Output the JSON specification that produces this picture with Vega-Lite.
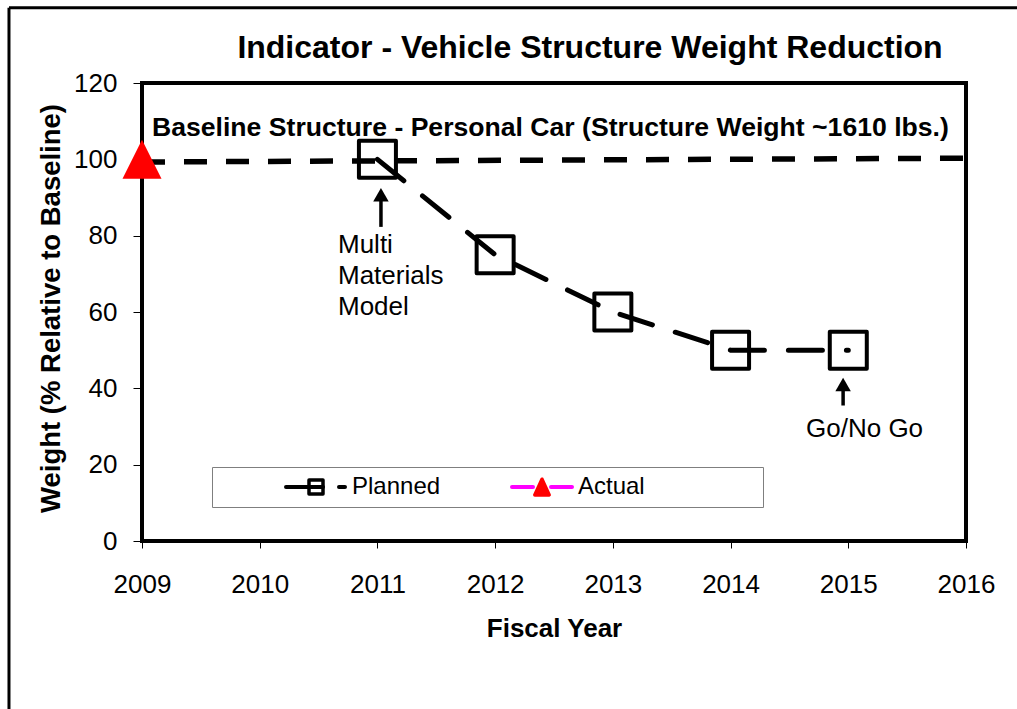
{
  "$schema": "https://vega.github.io/schema/vega-lite/v6.json",
  "width": 824,
  "height": 458,
  "autosize": {"type": "none"},
  "padding": {"left": 142, "top": 83, "right": 51, "bottom": 168},
  "background": "white",
  "config": {
    "font": "Liberation Sans",
    "view": {"stroke": "black", "strokeWidth": 4},
    "axis": {
      "grid": false,
      "domain": false,
      "labelFont": "Liberation Sans",
      "labelFontSize": 26,
      "labelColor": "black",
      "tickColor": "black",
      "tickWidth": 1,
      "titleFont": "Liberation Sans",
      "titleFontWeight": "bold",
      "titleColor": "black",
      "labelFlush": false,
      "labelOverlap": false
    }
  },
  "datasets": {
    "series": [
      {"year": 2009, "weight": 100, "series": "Actual"},
      {"year": 2011, "weight": 100, "series": "Planned"},
      {"year": 2012, "weight": 75, "series": "Planned"},
      {"year": 2013, "weight": 60, "series": "Planned"},
      {"year": 2014, "weight": 50, "series": "Planned"},
      {"year": 2015, "weight": 50, "series": "Planned"}
    ],
    "baseline": [
      {"year": 2009, "weight": 99.3},
      {"year": 2016, "weight": 100.3}
    ],
    "arrows": [
      {"year": 2011.03, "tip": 90.7, "tail": 82.3},
      {"year": 2014.956, "tip": 41.0, "tail": 35.5}
    ],
    "notes": [
      {"year": 2010.665, "weight": 75.5, "label": "Multi\nMaterials\nModel"},
      {"year": 2014.641, "weight": 27.35, "label": "Go/No Go"}
    ]
  },
  "layer": [
    {
      "data": {"values": [{}]},
      "mark": {"type": "rule", "stroke": "black", "strokeWidth": 3, "clip": false},
      "encoding": {
        "x": {"datum": 2007.87, "type": "quantitative", "scale": {"domain": [2009, 2016], "nice": false, "zero": false},
              "axis": {"title": "Fiscal Year", "values": [2009, 2010, 2011, 2012, 2013, 2014, 2015, 2016], "format": "d", "tickSize": 7, "labelPadding": 23, "titleFontSize": 26, "titlePadding": 18}},
        "y": {"datum": -45, "type": "quantitative", "scale": {"domain": [0, 120], "nice": false, "zero": false},
              "axis": {"title": "Weight (% Relative to Baseline)", "values": [0, 20, 40, 60, 80, 100, 120], "tickSize": 9, "labelPadding": 16, "titleFontSize": 27.5, "titlePadding": 8, "titleY": 225}},
        "y2": {"datum": 139.7}
      }
    },
    {
      "data": {"values": [{}]},
      "mark": {"type": "rule", "stroke": "black", "strokeWidth": 3, "clip": false},
      "encoding": {
        "x": {"datum": 2007.87, "type": "quantitative", "scale": {"domain": [2009, 2016], "nice": false, "zero": false},
              "axis": {"title": "Fiscal Year", "values": [2009, 2010, 2011, 2012, 2013, 2014, 2015, 2016], "format": "d", "tickSize": 7, "labelPadding": 23, "titleFontSize": 26, "titlePadding": 18}},
        "x2": {"datum": 2016.6},
        "y": {"datum": 139.7, "type": "quantitative", "scale": {"domain": [0, 120], "nice": false, "zero": false},
              "axis": {"title": "Weight (% Relative to Baseline)", "values": [0, 20, 40, 60, 80, 100, 120], "tickSize": 9, "labelPadding": 16, "titleFontSize": 27.5, "titlePadding": 8, "titleY": 225}}
      }
    },
    {
      "data": {"name": "baseline"},
      "mark": {"type": "line", "stroke": "black", "strokeWidth": 5.5, "strokeDash": [23, 19]},
      "encoding": {
        "x": {"field": "year", "type": "quantitative", "scale": {"domain": [2009, 2016], "nice": false, "zero": false},
              "axis": {"title": "Fiscal Year", "values": [2009, 2010, 2011, 2012, 2013, 2014, 2015, 2016], "format": "d", "tickSize": 7, "labelPadding": 23, "titleFontSize": 26, "titlePadding": 18}},
        "y": {"field": "weight", "type": "quantitative", "scale": {"domain": [0, 120], "nice": false, "zero": false},
              "axis": {"title": "Weight (% Relative to Baseline)", "values": [0, 20, 40, 60, 80, 100, 120], "tickSize": 9, "labelPadding": 16, "titleFontSize": 27.5, "titlePadding": 8, "titleY": 225}}
      }
    },
    {
      "data": {"name": "series"},
      "transform": [{"filter": "datum.series === 'Planned'"}],
      "mark": {"type": "line", "strokeWidth": 5, "strokeCap": "round", "strokeDash": [34, 24]},
      "encoding": {
        "x": {"field": "year", "type": "quantitative", "scale": {"domain": [2009, 2016], "nice": false, "zero": false},
              "axis": {"title": "Fiscal Year", "values": [2009, 2010, 2011, 2012, 2013, 2014, 2015, 2016], "format": "d", "tickSize": 7, "labelPadding": 23, "titleFontSize": 26, "titlePadding": 18}},
        "y": {"field": "weight", "type": "quantitative", "scale": {"domain": [0, 120], "nice": false, "zero": false},
              "axis": {"title": "Weight (% Relative to Baseline)", "values": [0, 20, 40, 60, 80, 100, 120], "tickSize": 9, "labelPadding": 16, "titleFontSize": 27.5, "titlePadding": 8, "titleY": 225}},
        "color": {
          "field": "series", "type": "nominal",
          "scale": {"domain": ["Planned", "Actual"], "range": ["black", "#ff00ff"]},
          "legend": {
            "orient": "none", "legendX": 70, "legendY": 384, "direction": "horizontal", "title": null,
            "symbolSize": 400, "symbolStrokeWidth": 4, "symbolOffset": 84, "labelOffset": 24, "columnPadding": 5, "padding": 8,
            "strokeColor": "#7f7f7f", "labelFont": "Liberation Sans", "labelFontSize": 24, "labelColor": "black",
            "encode": {
              "symbols": {
                "update": {
                  "shape": {"signal": "datum.value === 'Planned' ? 'M-3,0H0.7M2.3,0H2.9' : 'M-3,0H-0.9M0.9,0H3M20.5,0'"},
                  "size": {"value": 400},
                  "strokeWidth": {"value": 4},
                  "strokeCap": {"value": "round"},
                  "strokeDash": {"value": []},
                  "fill": {"value": "transparent"},
                  "opacity": {"value": 1}
                }
              }
            }
          }
        }
      }
    },
    {
      "data": {"name": "series"},
      "mark": {"type": "line", "strokeOpacity": 0, "strokeWidth": 1},
      "encoding": {
        "x": {"field": "year", "type": "quantitative", "scale": {"domain": [2009, 2016], "nice": false, "zero": false},
              "axis": {"title": "Fiscal Year", "values": [2009, 2010, 2011, 2012, 2013, 2014, 2015, 2016], "format": "d", "tickSize": 7, "labelPadding": 23, "titleFontSize": 26, "titlePadding": 18}},
        "y": {"field": "weight", "type": "quantitative", "scale": {"domain": [0, 120], "nice": false, "zero": false},
              "axis": {"title": "Weight (% Relative to Baseline)", "values": [0, 20, 40, 60, 80, 100, 120], "tickSize": 9, "labelPadding": 16, "titleFontSize": 27.5, "titlePadding": 8, "titleY": 225}},
        "stroke": {
          "field": "series", "type": "nominal", "sort": ["Planned", "Actual"],
          "scale": {"range": ["black", "#ff0000"]},
          "legend": {
            "orient": "none", "legendX": 70, "legendY": 384, "direction": "horizontal", "title": null,
            "symbolSize": 400, "symbolStrokeWidth": 4, "symbolOffset": 84, "labelOffset": 24, "columnPadding": 5, "padding": 8,
            "symbolFillColor": "transparent", "symbolOpacity": 1,
            "labelFont": "Liberation Sans", "labelFontSize": 24, "labelColor": "black", "labelOpacity": 0,
            "encode": {
              "symbols": {
                "update": {
                  "shape": {"signal": "datum.value === 'Planned' ? 'M-0.7,-0.7H0.7V0.7H-0.7Z' : 'M0,-0.78L0.72,0.8L-0.72,0.8ZM0,0.06L0.18,0.45L-0.18,0.45Z'"},
                  "size": {"value": 400},
                  "strokeWidth": {"value": 3.5},
                  "strokeJoin": {"value": "round"},
                  "strokeOpacity": {"value": 1},
                  "strokeDash": {"value": []},
                  "fill": {"signal": "datum.value === 'Planned' ? 'transparent' : '#ff0000'"},
                  "opacity": {"value": 1}
                }
              }
            }
          }
        }
      }
    },
    {
      "data": {"name": "series"},
      "transform": [{"filter": "datum.series === 'Planned'"}],
      "mark": {"type": "point", "shape": "square", "size": 1369, "opacity": 1, "strokeJoin": "round", "stroke": "black", "strokeWidth": 4, "fill": "transparent", "filled": false},
      "encoding": {
        "x": {"field": "year", "type": "quantitative", "scale": {"domain": [2009, 2016], "nice": false, "zero": false},
              "axis": {"title": "Fiscal Year", "values": [2009, 2010, 2011, 2012, 2013, 2014, 2015, 2016], "format": "d", "tickSize": 7, "labelPadding": 23, "titleFontSize": 26, "titlePadding": 18}},
        "y": {"field": "weight", "type": "quantitative", "scale": {"domain": [0, 120], "nice": false, "zero": false},
              "axis": {"title": "Weight (% Relative to Baseline)", "values": [0, 20, 40, 60, 80, 100, 120], "tickSize": 9, "labelPadding": 16, "titleFontSize": 27.5, "titlePadding": 8, "titleY": 225}}
      }
    },
    {
      "data": {"name": "series"},
      "transform": [{"filter": "datum.series === 'Actual'"}],
      "mark": {"type": "point", "shape": "M0,-1L1,1L-1,1Z", "size": 1521, "opacity": 1, "fill": "#ff0000", "filled": true, "strokeWidth": 0},
      "encoding": {
        "x": {"field": "year", "type": "quantitative", "scale": {"domain": [2009, 2016], "nice": false, "zero": false},
              "axis": {"title": "Fiscal Year", "values": [2009, 2010, 2011, 2012, 2013, 2014, 2015, 2016], "format": "d", "tickSize": 7, "labelPadding": 23, "titleFontSize": 26, "titlePadding": 18}},
        "y": {"field": "weight", "type": "quantitative", "scale": {"domain": [0, 120], "nice": false, "zero": false},
              "axis": {"title": "Weight (% Relative to Baseline)", "values": [0, 20, 40, 60, 80, 100, 120], "tickSize": 9, "labelPadding": 16, "titleFontSize": 27.5, "titlePadding": 8, "titleY": 225}}
      }
    },
    {
      "data": {"name": "arrows"},
      "mark": {"type": "rule", "stroke": "black", "strokeWidth": 3.5},
      "encoding": {
        "x": {"field": "year", "type": "quantitative", "scale": {"domain": [2009, 2016], "nice": false, "zero": false},
              "axis": {"title": "Fiscal Year", "values": [2009, 2010, 2011, 2012, 2013, 2014, 2015, 2016], "format": "d", "tickSize": 7, "labelPadding": 23, "titleFontSize": 26, "titlePadding": 18}},
        "y": {"field": "tail", "type": "quantitative", "scale": {"domain": [0, 120], "nice": false, "zero": false},
              "axis": {"title": "Weight (% Relative to Baseline)", "values": [0, 20, 40, 60, 80, 100, 120], "tickSize": 9, "labelPadding": 16, "titleFontSize": 27.5, "titlePadding": 8, "titleY": 225}},
        "y2": {"field": "tip"}
      }
    },
    {
      "data": {"name": "arrows"},
      "mark": {"type": "point", "shape": "triangle-up", "size": 240, "filled": true, "color": "black", "opacity": 1},
      "encoding": {
        "x": {"field": "year", "type": "quantitative", "scale": {"domain": [2009, 2016], "nice": false, "zero": false},
              "axis": {"title": "Fiscal Year", "values": [2009, 2010, 2011, 2012, 2013, 2014, 2015, 2016], "format": "d", "tickSize": 7, "labelPadding": 23, "titleFontSize": 26, "titlePadding": 18}},
        "y": {"field": "tip", "type": "quantitative", "scale": {"domain": [0, 120], "nice": false, "zero": false},
              "axis": {"title": "Weight (% Relative to Baseline)", "values": [0, 20, 40, 60, 80, 100, 120], "tickSize": 9, "labelPadding": 16, "titleFontSize": 27.5, "titlePadding": 8, "titleY": 225}}
      }
    },
    {
      "data": {"name": "notes"},
      "mark": {"type": "text", "align": "left", "baseline": "alphabetic", "fontSize": 26, "lineHeight": 31, "lineBreak": "\n", "font": "Liberation Sans", "color": "black"},
      "encoding": {
        "x": {"field": "year", "type": "quantitative", "scale": {"domain": [2009, 2016], "nice": false, "zero": false},
              "axis": {"title": "Fiscal Year", "values": [2009, 2010, 2011, 2012, 2013, 2014, 2015, 2016], "format": "d", "tickSize": 7, "labelPadding": 23, "titleFontSize": 26, "titlePadding": 18}},
        "y": {"field": "weight", "type": "quantitative", "scale": {"domain": [0, 120], "nice": false, "zero": false},
              "axis": {"title": "Weight (% Relative to Baseline)", "values": [0, 20, 40, 60, 80, 100, 120], "tickSize": 9, "labelPadding": 16, "titleFontSize": 27.5, "titlePadding": 8, "titleY": 225}},
        "text": {"field": "label"}
      }
    },
    {
      "data": {"values": [{}]},
      "mark": {"type": "text", "align": "left", "baseline": "alphabetic", "fontSize": 26.6, "fontWeight": "bold", "font": "Liberation Sans", "color": "black", "clip": false},
      "encoding": {
        "x": {"datum": 2009.085, "type": "quantitative", "scale": {"domain": [2009, 2016], "nice": false, "zero": false},
              "axis": {"title": "Fiscal Year", "values": [2009, 2010, 2011, 2012, 2013, 2014, 2015, 2016], "format": "d", "tickSize": 7, "labelPadding": 23, "titleFontSize": 26, "titlePadding": 18}},
        "y": {"datum": 106.1, "type": "quantitative", "scale": {"domain": [0, 120], "nice": false, "zero": false},
              "axis": {"title": "Weight (% Relative to Baseline)", "values": [0, 20, 40, 60, 80, 100, 120], "tickSize": 9, "labelPadding": 16, "titleFontSize": 27.5, "titlePadding": 8, "titleY": 225}},
        "text": {"value": "Baseline Structure - Personal Car (Structure Weight ~1610 lbs.)"}
      }
    },
    {
      "data": {"values": [{}]},
      "mark": {"type": "text", "align": "center", "baseline": "alphabetic", "fontSize": 32, "fontWeight": "bold", "font": "Liberation Sans", "color": "black", "clip": false},
      "encoding": {
        "x": {"datum": 2012.806, "type": "quantitative", "scale": {"domain": [2009, 2016], "nice": false, "zero": false},
              "axis": {"title": "Fiscal Year", "values": [2009, 2010, 2011, 2012, 2013, 2014, 2015, 2016], "format": "d", "tickSize": 7, "labelPadding": 23, "titleFontSize": 26, "titlePadding": 18}},
        "y": {"datum": 126.5, "type": "quantitative", "scale": {"domain": [0, 120], "nice": false, "zero": false},
              "axis": {"title": "Weight (% Relative to Baseline)", "values": [0, 20, 40, 60, 80, 100, 120], "tickSize": 9, "labelPadding": 16, "titleFontSize": 27.5, "titlePadding": 8, "titleY": 225}},
        "text": {"value": "Indicator - Vehicle Structure Weight Reduction"}
      }
    }
  ]
}
